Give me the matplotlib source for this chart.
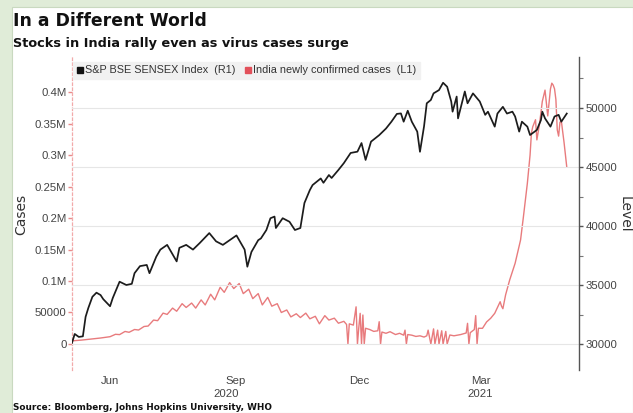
import matplotlib
matplotlib.use("Agg")
import matplotlib.pyplot as plt
import matplotlib.ticker as mticker
from matplotlib.lines import Line2D
from matplotlib.patches import Rectangle
from matplotlib import font_manager
import pandas as pd

# ---------------- data ----------------
sensex_dates = [
    "2020-05-19", "2020-05-21", "2020-05-24", "2020-05-27", "2020-05-29", "2020-05-31",
    "2020-06-03", "2020-06-06", "2020-06-09", "2020-06-11", "2020-06-16", "2020-06-18",
    "2020-06-23", "2020-06-28", "2020-07-02", "2020-07-04", "2020-07-08", "2020-07-13",
    "2020-07-15", "2020-07-20", "2020-07-23", "2020-07-28", "2020-07-30", "2020-08-04",
    "2020-08-06", "2020-08-11", "2020-08-16", "2020-08-21", "2020-08-28", "2020-09-02",
    "2020-09-07", "2020-09-12", "2020-09-17", "2020-09-23", "2020-09-25", "2020-09-28",
    "2020-10-03", "2020-10-05", "2020-10-09", "2020-10-12", "2020-10-15", "2020-10-16",
    "2020-10-21", "2020-10-26", "2020-10-30", "2020-11-03", "2020-11-06", "2020-11-10",
    "2020-11-12", "2020-11-18", "2020-11-20", "2020-11-24", "2020-11-26", "2020-12-01",
    "2020-12-05", "2020-12-10", "2020-12-15", "2020-12-18", "2020-12-21", "2020-12-25",
    "2020-12-31", "2021-01-05", "2021-01-09", "2021-01-13", "2021-01-16", "2021-01-18",
    "2021-01-21", "2021-01-24", "2021-01-28", "2021-01-30", "2021-02-02", "2021-02-04",
    "2021-02-07", "2021-02-09", "2021-02-13", "2021-02-16", "2021-02-19", "2021-02-22",
    "2021-02-23", "2021-02-26", "2021-02-27", "2021-03-04", "2021-03-06", "2021-03-10",
    "2021-03-15", "2021-03-19", "2021-03-21", "2021-03-26", "2021-03-28", "2021-04-01",
    "2021-04-04", "2021-04-08", "2021-04-10", "2021-04-13", "2021-04-15", "2021-04-19",
    "2021-04-21", "2021-04-26", "2021-04-29", "2021-04-30", "2021-05-02", "2021-05-06",
    "2021-05-09", "2021-05-12", "2021-05-14", "2021-05-18",
]
sensex_level = [
    30100, 30850, 30600, 30650, 32300, 33050,
    34000, 34350, 34150, 33800, 33200, 33900,
    35280, 35000, 35100, 36000, 36600, 36700,
    36000, 37400, 38000, 38400, 38000, 37000,
    38150, 38400, 38000, 38560, 39400, 38700,
    38400, 38800, 39200, 38000, 36550, 37800,
    38800, 38950, 39660, 40660, 40800, 39830,
    40660, 40360, 39660, 39830, 41950, 43050,
    43470, 44030, 43660, 44320, 44070, 44750,
    45330, 46190, 46300, 47030, 45600, 47150,
    47700, 48260, 48840, 49500, 49540, 48840,
    49770, 48840, 48000, 46290, 48450, 50400,
    50680, 51240, 51520, 52140, 51800, 50550,
    49690, 50970, 49120, 51400, 50400, 51240,
    50550, 49420, 49690, 48420, 49530, 50100,
    49530, 49690, 49280, 48000, 48840, 48420,
    47710, 48140, 48980, 49690, 49120, 48420,
    49280, 49420, 48840, 49530,
]

case_dates = [
    "2020-05-19", "2020-05-26", "2020-06-02", "2020-06-09", "2020-06-16", "2020-06-20",
    "2020-06-23", "2020-06-27", "2020-06-30", "2020-07-04", "2020-07-07", "2020-07-11",
    "2020-07-14", "2020-07-18", "2020-07-21", "2020-07-25", "2020-07-28", "2020-08-01",
    "2020-08-04", "2020-08-08", "2020-08-11", "2020-08-15", "2020-08-18", "2020-08-22",
    "2020-08-25", "2020-08-29", "2020-09-01", "2020-09-05", "2020-09-08", "2020-09-12",
    "2020-09-15", "2020-09-19", "2020-09-22", "2020-09-26", "2020-09-29", "2020-10-03",
    "2020-10-06", "2020-10-10", "2020-10-13", "2020-10-17", "2020-10-20", "2020-10-24",
    "2020-10-27", "2020-10-31", "2020-11-03", "2020-11-07", "2020-11-10", "2020-11-14",
    "2020-11-17", "2020-11-21", "2020-11-24", "2020-11-28", "2020-12-01", "2020-12-05",
    "2020-12-07", "2020-12-08", "2020-12-09", "2020-12-12", "2020-12-14", "2020-12-15",
    "2020-12-16", "2020-12-17", "2020-12-18", "2020-12-19", "2020-12-20", "2020-12-21",
    "2020-12-24", "2020-12-27", "2020-12-30", "2020-12-31", "2021-01-01", "2021-01-02",
    "2021-01-05", "2021-01-08", "2021-01-12", "2021-01-15", "2021-01-18", "2021-01-19",
    "2021-01-20", "2021-01-21", "2021-01-24", "2021-01-27", "2021-01-30", "2021-02-02",
    "2021-02-04", "2021-02-05", "2021-02-07", "2021-02-09", "2021-02-10", "2021-02-12",
    "2021-02-13", "2021-02-15", "2021-02-16", "2021-02-18", "2021-02-19", "2021-02-21",
    "2021-02-24", "2021-03-01", "2021-03-05", "2021-03-06", "2021-03-07", "2021-03-08",
    "2021-03-11", "2021-03-12", "2021-03-13", "2021-03-14", "2021-03-17", "2021-03-20",
    "2021-03-23", "2021-03-26", "2021-03-28", "2021-03-30", "2021-03-31", "2021-04-01",
    "2021-04-03", "2021-04-06", "2021-04-10", "2021-04-14", "2021-04-16", "2021-04-19",
    "2021-04-21", "2021-04-22", "2021-04-23", "2021-04-25", "2021-04-26", "2021-04-28",
    "2021-04-30", "2021-05-02", "2021-05-04", "2021-05-06", "2021-05-07", "2021-05-08",
    "2021-05-09", "2021-05-10", "2021-05-11", "2021-05-12", "2021-05-13", "2021-05-14",
    "2021-05-16", "2021-05-18",
]
case_counts = [
    5000, 6200, 7800, 9500, 11600, 15400,
    14900, 19900, 18600, 23000, 22200, 27800,
    28500, 38000, 37000, 49000, 47000, 57000,
    52000, 64000, 58000, 65000, 57000, 70000,
    62000, 79000, 70000, 90000, 82000, 97500,
    88000, 96000, 80000, 87000, 72000, 80000,
    62000, 74000, 60000, 64000, 50000, 54000,
    43000, 48000, 42000, 49000, 40000, 44000,
    32000, 45000, 38000, 41000, 33000, 36000,
    31000, 0, 32000, 30000, 59000, 0,
    26000, 48700, 0, 46000, 0, 25000,
    23000, 20000, 21000, 35400, 0, 19000,
    17000, 19500, 15000, 17000, 14000, 22000,
    0, 15000, 14000, 12000, 13000, 11000,
    13000, 22000, 0, 24000, 0, 22000,
    0, 21000, 0, 20000, 0, 14300,
    13000, 15000, 17500, 32800, 0, 18000,
    23000, 45000, 0, 25000, 24900, 35000,
    40800, 48700, 58000, 67100, 60000, 56000,
    78000, 101600, 128100, 165000, 200000, 255000,
    300000, 335000, 345000, 356000, 324000, 350000,
    385000, 403000, 362000, 405000, 414000, 411000,
    405000, 388000, 340000, 330000, 352000, 354000,
    320000, 281000,
]

month_labels = ["Jun", "Sep", "Dec", "Mar"]
month_label_dates = ["2020-06-16", "2020-09-16", "2020-12-16", "2021-03-16"]
quarter_starts = ["2020-07-01", "2020-10-01", "2021-01-01", "2021-04-01"]
year_labels = ["2020", "2021"]
level_ticks = [30000, 35000, 40000, 45000, 50000]
case_ticks = [0, 50000, 100000, 150000, 200000, 250000, 300000, 350000, 400000]

# ---------------- fonts ----------------
available = {f.name for f in font_manager.fontManager.ttflist}
if "Liberation Sans Narrow" in available:
    NARROW, TICK_SIZE = "Liberation Sans Narrow", 9.2
else:
    NARROW, TICK_SIZE = "Liberation Sans", 8.2
BOLD = "DejaVu Sans"

# ---------------- figure ----------------
W, H = 633, 413
fig = plt.figure(figsize=(W / 100, H / 100), dpi=100)
fig.patch.set_facecolor("#e0ecd8")
fig.patches.append(Rectangle((12 / W, 0), 1 - 12 / W, (H - 7) / H, transform=fig.transFigure,
                             facecolor="white", edgecolor="#c9d9c0", linewidth=0.8, zorder=-5))

ax_left, ax_right, ax_top, ax_bottom = 72, 579, 57, 370
ax = fig.add_axes([ax_left / W, (H - ax_bottom) / H, (ax_right - ax_left) / W, (ax_bottom - ax_top) / H])
ax.set_facecolor("none")
ax2 = ax.twinx()
ax2.set_facecolor("none")

sx = pd.to_datetime(sensex_dates)
cx = pd.to_datetime(case_dates)

red_line = "#e87b7d"
red_mark = "#e2505a"
ax.plot(cx, case_counts, color=red_line, lw=1.0, zorder=2)
ax2.plot(sx, sensex_level, color="#1c1c1c", lw=1.25, zorder=3)

x0, x1 = pd.Timestamp("2020-05-19"), pd.Timestamp("2021-05-27")
ax.set_xlim(x0, x1)
ax.set_ylim(-41270, 455556)
ax2.set_ylim(27797, 54322)

# grid (drawn from the right-hand axis ticks and quarter boundaries)
ax2.set_xticks(pd.to_datetime(quarter_starts))
ax2.set_yticks(level_ticks)
ax2.yaxis.set_minor_locator(mticker.MultipleLocator(2500))
ax2.grid(True, which="major", color="#e6e6e6", lw=0.8)
ax2.set_axisbelow(True)
ax.grid(False)

# x labels: months centred mid-month, years centred on their span
ax.set_xticks(pd.to_datetime(quarter_starts))
ax.set_xticks(pd.to_datetime(month_label_dates), minor=True)
ax.set_xticklabels(month_labels, minor=True)
ax.tick_params(axis="x", which="major", length=0, labelbottom=False)
ax.tick_params(axis="x", which="minor", length=0, pad=4, labelsize=TICK_SIZE, labelcolor="#444444")
for lab in ax.get_xticklabels(minor=True):
    lab.set_fontfamily(NARROW)
ax2.tick_params(axis="x", which="both", length=0, labelbottom=False)

year_bounds = [x0, pd.Timestamp("2021-01-01"), x1]
for i, yl in enumerate(year_labels):
    mid = year_bounds[i] + (year_bounds[i + 1] - year_bounds[i]) / 2
    ax.text(mid, -0.077, yl, transform=ax.get_xaxis_transform(), ha="center", va="center",
            fontsize=TICK_SIZE, color="#444444", family=NARROW)

# left axis (cases)
def case_fmt(v, _):
    if v == 0:
        return "0"
    if v < 100000:
        return f"{v:.0f}"
    return f"{v / 1e6:g}M"

ax.set_yticks(case_ticks)
ax.yaxis.set_major_formatter(mticker.FuncFormatter(case_fmt))
ax.tick_params(axis="y", length=3, width=1, color="#e98a8a", pad=1, labelsize=TICK_SIZE, labelcolor="#444444")
for lab in ax.get_yticklabels():
    lab.set_fontfamily(NARROW)
for s in ["top", "right", "bottom"]:
    ax.spines[s].set_visible(False)
ax.spines["left"].set_color("#f2aaaa")
ax.spines["left"].set_linestyle((0, (2, 2)))
ax.spines["left"].set_linewidth(0.9)

# right axis (index level)
ax2.tick_params(axis="y", which="major", length=3, width=1, color="#555555", pad=2,
                labelsize=TICK_SIZE, labelcolor="#444444")
ax2.tick_params(axis="y", which="minor", length=3, width=0.8, color="#777777")
for lab in ax2.get_yticklabels():
    lab.set_fontfamily(NARROW)
for s in ["top", "left", "bottom"]:
    ax2.spines[s].set_visible(False)
ax2.spines["right"].set_color("#555555")
ax2.spines["right"].set_linewidth(1.0)

ax.set_ylabel("Cases", fontsize=10, color="#333333", family="DejaVu Sans", va="center")
ax.yaxis.set_label_coords(-(ax_left - 21) / (ax_right - ax_left), (ax_bottom - 214) / (ax_bottom - ax_top))
ax2.set_ylabel("Level", fontsize=10, color="#333333", family="DejaVu Sans", rotation=270, va="center")
ax2.yaxis.set_label_coords((625 - ax_left) / (ax_right - ax_left), (ax_bottom - 214) / (ax_bottom - ax_top))

# legend
handles = [
    Line2D([], [], marker="s", ls="none", markersize=4.5, color="#111111"),
    Line2D([], [], marker="s", ls="none", markersize=4.5, color=red_mark),
]
labels = ["S&P BSE SENSEX Index  (R1)", "India newly confirmed cases  (L1)"]
leg = ax2.legend(handles, labels, loc="upper left", bbox_to_anchor=(0.002, 0.985), ncol=2,
                 frameon=True, facecolor="#f1f1f1", edgecolor="#f1f1f1", framealpha=1,
                 fancybox=False, handlelength=0.6, handletextpad=0.2, columnspacing=0.8,
                 borderpad=0.35, borderaxespad=0, prop={"family": NARROW, "size": 7.8})
for t in leg.get_texts():
    t.set_color("#333333")

# titles and source
fig.text(13 / W, 1 - 21 / H, "In a Different World", fontsize=12.4, fontweight="bold",
         family=BOLD, color="#111111", va="center", ha="left")
fig.text(13 / W, 1 - 44 / H, "Stocks in India rally even as virus cases surge", fontsize=9.3,
         fontweight="bold", family=BOLD, color="#111111", va="center", ha="left")
fig.text(13 / W, 1 - 408 / H, "Source: Bloomberg, Johns Hopkins University, WHO", fontsize=6.4,
         fontweight="bold", family=BOLD, color="#111111", va="center", ha="left")

fig.savefig("out.png", dpi=100)
